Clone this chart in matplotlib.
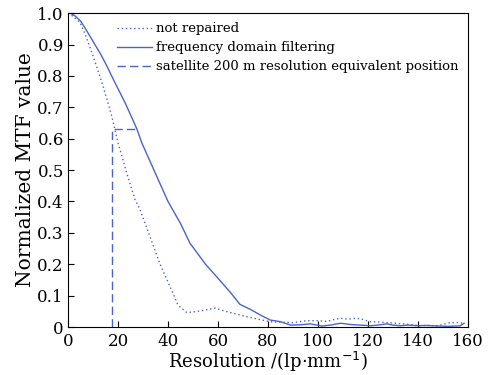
import matplotlib
matplotlib.use("Agg")
import matplotlib.pyplot as plt

# frequency domain filtering (solid)
filt_x = [0, 1, 3, 5, 7, 10, 13, 15, 18.8, 22.8, 27.5, 29.5, 35.5, 40, 45, 48.8, 55, 59.5, 65, 68.8,
          73, 77, 81, 85, 89, 93, 97, 101.5, 105, 109, 113, 117, 121, 124, 127.5, 130, 133, 136, 140,
          143, 146, 149, 152, 155, 157, 158.5]
filt_y = [1.0, 1.0, 0.99, 0.975, 0.95, 0.91, 0.87, 0.84, 0.778, 0.715, 0.632, 0.587, 0.48, 0.40, 0.33,
          0.267, 0.2, 0.16, 0.11, 0.072, 0.056, 0.038, 0.022, 0.017, 0.006, 0.007, 0.01, 0.003, 0.006,
          0.012, 0.008, 0.006, 0.004, 0.006, 0.01, 0.006, 0.004, 0.006, 0.004, 0.005, 0.004, 0.003,
          0.002, 0.003, 0.004, 0.012]

# not repaired (dotted)
raw_x = [0, 2, 4.8, 7, 10, 14, 17.5, 20, 23.5, 26.8, 28.8, 32.8, 36.8, 40.8, 44, 47.5, 50, 52.8, 56,
         58.8, 61, 63.5, 67, 71.5, 76, 80.8, 85, 90, 95.5, 100, 103.5, 108.8, 112, 115.5, 118, 120.8,
         124, 127.5, 131, 134, 137, 140.8, 144, 147.5, 150, 152.8, 156.8, 158.5]
raw_y = [1.0, 0.99, 0.97, 0.93, 0.864, 0.768, 0.672, 0.587, 0.49, 0.406, 0.374, 0.288, 0.2, 0.129, 0.07,
         0.046, 0.048, 0.051, 0.056, 0.06, 0.055, 0.049, 0.042, 0.033, 0.025, 0.017, 0.015, 0.014, 0.02,
         0.02, 0.018, 0.028, 0.025, 0.028, 0.024, 0.017, 0.016, 0.014, 0.012, 0.01, 0.008, 0.004, 0.005,
         0.004, 0.008, 0.014, 0.014, 0.01]

# satellite 200 m resolution equivalent position
sat_x = 17.4
sat_y = 0.632
sat_x_end = 27.5

blue = "#4a64c8"

plt.rcParams["font.family"] = "DejaVu Serif"
fig = plt.figure(figsize=(4.93, 3.75), dpi=100)
ax = fig.add_axes([0.138, 0.128, 0.811, 0.837])

ax.plot(raw_x, raw_y, linestyle=(0, (1, 2)), color=blue, lw=1.0, label="not repaired")
ax.plot(filt_x, filt_y, "-", color=blue, lw=1.0, label="frequency domain filtering")
ax.plot([sat_x, sat_x, sat_x_end], [0, sat_y, sat_y], linestyle=(0, (6, 3)), color=blue, lw=1.0,
        label="satellite 200 m resolution equivalent position")

ax.set_xlim(0, 160)
ax.set_ylim(0, 1.0)
ax.set_xticks(range(0, 161, 20))
ax.set_yticks([0, 0.1, 0.2, 0.3, 0.4, 0.5, 0.6, 0.7, 0.8, 0.9, 1.0])
ax.set_yticklabels(["0", "0.1", "0.2", "0.3", "0.4", "0.5", "0.6", "0.7", "0.8", "0.9", "1.0"])
ax.tick_params(direction="in", labelsize=12, length=4)
ax.tick_params(axis="x", pad=4)
ax.tick_params(axis="y", pad=3)
ax.set_xlabel("Resolution /(lp$\\cdot$mm$^{-1}$)", fontsize=13, labelpad=0)
ax.set_ylabel("Normalized MTF value", fontsize=14.5, labelpad=2)

ax.legend(loc="upper left", bbox_to_anchor=(0.1, 1.0), frameon=False, fontsize=9.5,
          handlelength=2.65, handletextpad=0.3, labelspacing=0.45, borderaxespad=0.3)

fig.savefig("out.png", dpi=100)
